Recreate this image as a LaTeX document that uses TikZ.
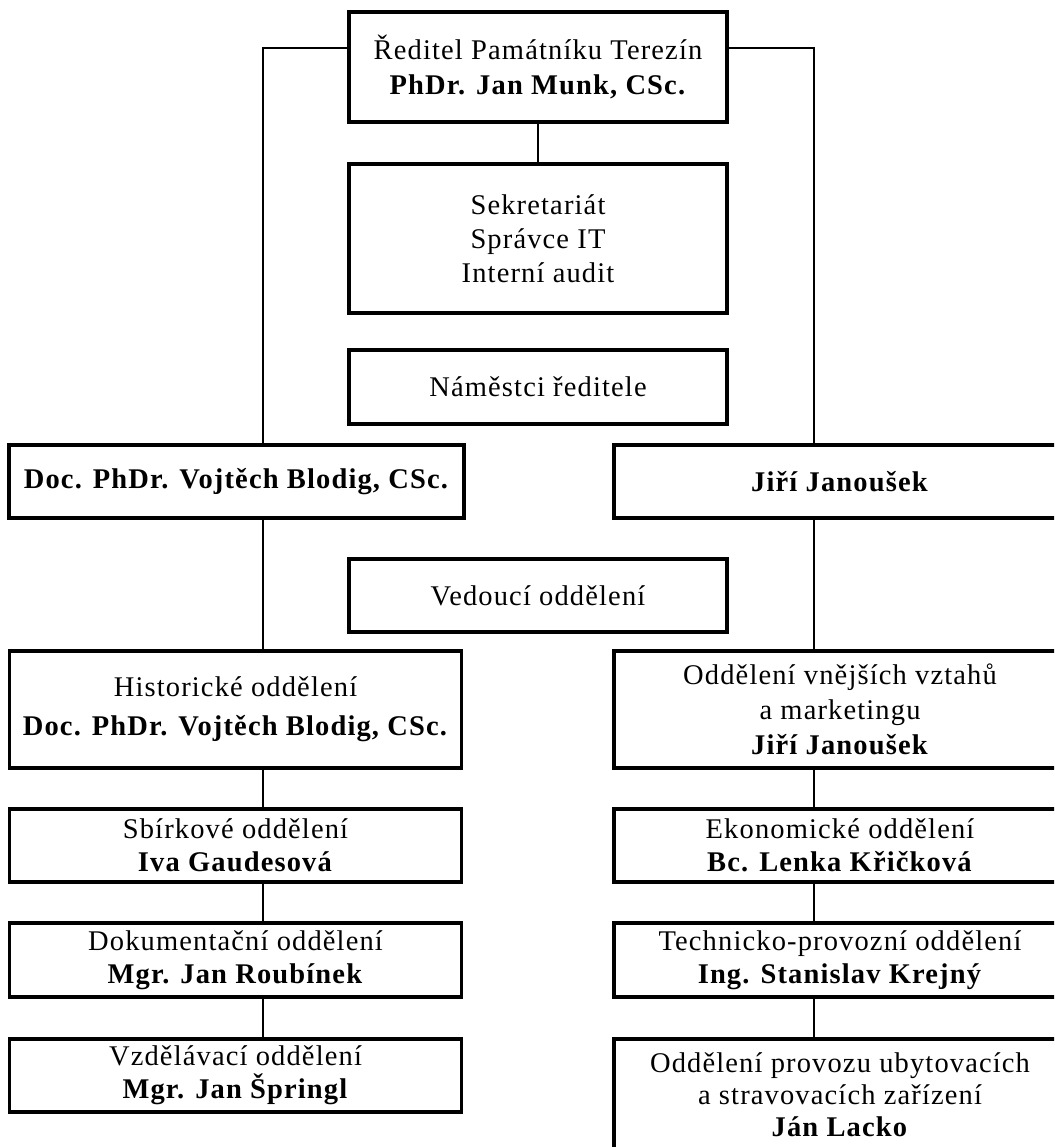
\documentclass[tikz,border=0pt]{standalone}
\usepackage{fontspec}
\setmainfont{Liberation Serif}[LetterSpace=4.0]
\begin{document}
\begin{tikzpicture}[x=1pt,y=1pt,
  box/.style={draw, line width=3.2pt, inner sep=0pt, align=center,
    font=\fontsize{28.5}{34}\selectfont},
  conn/.style={line width=2.8pt}]
\useasboundingbox (0,0) rectangle (1054,-1147);
\clip (0,0) rectangle (1054,-1147);
\fill[white] (0,0) rectangle (1054,-1147);
\coordinate (lx) at (263,0);
\coordinate (rx) at (814,0);

\node[box, minimum width=378pt, minimum height=110pt, font=\fontsize{28.5}{35}\selectfont] (dir) at (538,-67)
  {Ředitel Památníku Terezín\\ \textbf{PhDr. Jan Munk, CSc.}};
\node[box, minimum width=378pt, minimum height=149pt] (sek) at (538,-238.5)
  {Sekretariát\\ Správce IT\\ Interní audit};
\node[box, minimum width=378pt, minimum height=74pt] (nam) at (538,-387)
  {Náměstci ředitele};
\node[box, minimum width=455pt, minimum height=73pt] (doc) at (236.5,-481.5)
  {\textbf{Doc. PhDr. Vojtěch Blodig, CSc.}};
\node[box, minimum width=452pt, minimum height=73pt] (jj) at (840,-481.5)
  {\textbf{Jiří Janoušek}};
\node[box, minimum width=378pt, minimum height=73pt] (ved) at (538,-595.5)
  {Vedoucí oddělení};
\node[box, minimum width=452pt, minimum height=117pt, font=\fontsize{28.5}{39}\selectfont] (hist) at (235.5,-709.5)
  {Historické oddělení\\ \textbf{Doc. PhDr. Vojtěch Blodig, CSc.}};
\node[box, minimum width=452pt, minimum height=117pt, font=\fontsize{28.5}{35}\selectfont] (ovv) at (840,-709.5)
  {Oddělení vnějších vztahů\\ a marketingu\\ \textbf{Jiří Janoušek}};
\node[box, minimum width=452pt, minimum height=73pt, font=\fontsize{28.5}{33}\selectfont] (sbir) at (235.5,-845.5)
  {Sbírkové oddělení\\ \textbf{Iva Gaudesová}};
\node[box, minimum width=452pt, minimum height=73pt, font=\fontsize{28.5}{33}\selectfont] (eko) at (840,-845.5)
  {Ekonomické oddělení\\ \textbf{Bc. Lenka Křičková}};
\node[box, minimum width=452pt, minimum height=74pt, font=\fontsize{28.5}{33}\selectfont] (dok) at (235.5,-960)
  {Dokumentační oddělení\\ \textbf{Mgr. Jan Roubínek}};
\node[box, minimum width=452pt, minimum height=74pt, font=\fontsize{28.5}{33}\selectfont] (tech) at (840,-960)
  {Technicko-provozní oddělení\\ \textbf{Ing. Stanislav Krejný}};
\node[box, minimum width=452pt, minimum height=73pt, font=\fontsize{28.5}{33}\selectfont] (vzd) at (235.5,-1075.5)
  {Vzdělávací oddělení\\ \textbf{Mgr. Jan Špringl}};
\node[box, minimum width=452pt, minimum height=112pt, font=\fontsize{28.5}{32}\selectfont] (prov) at (840,-1095)
  {Oddělení provozu ubytovacích\\ a stravovacích zařízení\\ \textbf{Ján Lacko}};

\draw[conn] ([yshift=19pt]dir.west) -| (lx |- doc.north);
\draw[conn] ([yshift=19pt]dir.east) -| (rx |- jj.north);
\draw[conn] (dir.south) -- (sek.north);
\draw[conn] (lx |- doc.south) -- (lx |- hist.north);
\draw[conn] (rx |- jj.south) -- (rx |- ovv.north);
\draw[conn] (lx |- hist.south) -- (lx |- sbir.north);
\draw[conn] (lx |- sbir.south) -- (lx |- dok.north);
\draw[conn] (lx |- dok.south) -- (lx |- vzd.north);
\draw[conn] (rx |- ovv.south) -- (rx |- eko.north);
\draw[conn] (rx |- eko.south) -- (rx |- tech.north);
\draw[conn] (rx |- tech.south) -- (rx |- prov.north);
\end{tikzpicture}
\end{document}
